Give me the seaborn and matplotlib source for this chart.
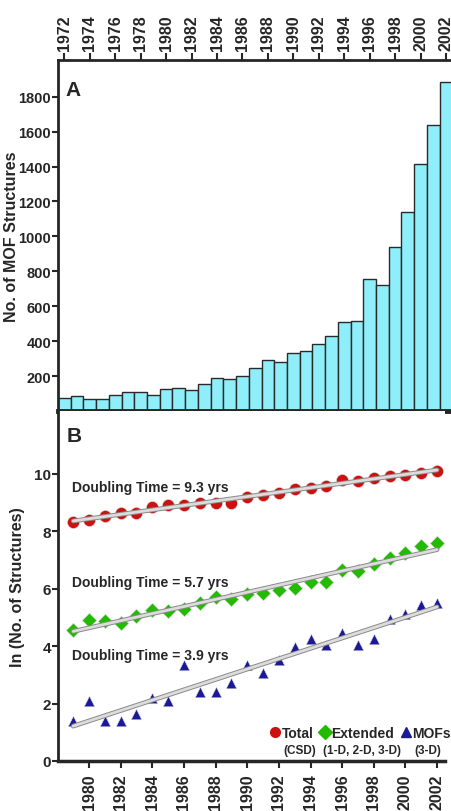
import matplotlib
matplotlib.use("Agg")
import matplotlib.pyplot as plt
import matplotlib.patheffects as pe
from matplotlib.lines import Line2D
import seaborn as sns

# ── Data ──────────────────────────────────────────────────────────────────────
bar_years = list(range(1972, 2003))
mof_counts = [74, 86, 70, 70, 90, 109, 109, 90, 124, 132, 122, 156, 189, 181,
              200, 248, 294, 280, 332, 343, 381, 427, 509, 513, 757, 723, 938,
              1138, 1413, 1640, 1882]

fit_years = list(range(1979, 2003))
ln_total = [8.32, 8.41, 8.53, 8.64, 8.63, 8.84, 8.90, 8.90, 8.99, 8.99, 8.99,
            9.21, 9.28, 9.33, 9.48, 9.52, 9.57, 9.77, 9.75, 9.85, 9.94, 9.97,
            10.03, 10.11]
ln_extended = [4.55, 4.90, 4.88, 4.81, 5.05, 5.25, 5.21, 5.30, 5.51, 5.71,
               5.65, 5.83, 5.86, 5.94, 6.03, 6.25, 6.25, 6.66, 6.62, 6.85,
               7.07, 7.25, 7.49, 7.59]
ln_mofs = [1.38, 2.08, 1.38, 1.38, 1.62, 2.21, 2.08, 3.36, 2.41, 2.41, 2.72,
           3.36, 3.07, 3.51, 3.97, 4.26, 4.03, 4.46, 4.03, 4.24, 4.93, 5.13,
           5.45, 5.50]

series_names = ["Total", "Extended", "MOFs"]
series_notes = ["(CSD)", "(1-D, 2-D, 3-D)", "(3-D)"]
doubling_labels = ["Doubling Time = 9.3 yrs", "Doubling Time = 5.7 yrs",
                   "Doubling Time = 3.9 yrs"]

# ── Style ─────────────────────────────────────────────────────────────────────
sns.set_style("ticks")
plt.rcParams["font.family"] = ["Liberation Sans", "DejaVu Sans"]
plt.rcParams["font.weight"] = "bold"
plt.rcParams["axes.labelweight"] = "bold"

bar_color = "#8eeefa"
colors = ["#cc1111", "#22bb00", "#1a1a99"]
markers = ["o", "D", "^"]
sizes = [75, 55, 58]

fig = plt.figure(figsize=(4.52, 8.12), dpi=100)
ax_a = fig.add_axes([0.1283, 0.4926, 0.8717, 0.4323])
ax_b = fig.add_axes([0.1283, 0.0616, 0.8562, 0.4310])

# ── Panel A: bar chart ────────────────────────────────────────────────────────
sns.barplot(x=bar_years, y=mof_counts, native_scale=True, width=1.0,
            color=bar_color, edgecolor="#2a2a2a", linewidth=1.0,
            saturation=1, ax=ax_a)
ax_a.set_xlim(1971.5, 2002.47)
ax_a.set_ylim(0, 2010)
ax_a.xaxis.tick_top()
ax_a.set_xticks(range(1972, 2003, 2))
ax_a.set_yticks(range(200, 1801, 200))
ax_a.tick_params(axis="x", labelsize=11.5, rotation=90, length=5, width=1.5,
                 pad=2)
ax_a.tick_params(axis="y", labelsize=10.5, length=4, width=1.5, pad=1)
ax_a.set_xlabel("")
ax_a.set_ylabel("No. of MOF Structures", fontsize=11.5)
ax_a.yaxis.set_label_coords(-0.1, 0.5)
for side in ["top", "left"]:
    ax_a.spines[side].set_linewidth(2)
ax_a.spines["bottom"].set_linewidth(3.5)
ax_a.spines["right"].set_visible(False)
ax_a.text(0.02, 0.915, "A", transform=ax_a.transAxes, fontsize=15,
          fontweight="bold", va="center", ha="left")

# ── Panel B: log growth with linear fits ─────────────────────────────────────
for vals, name, c, m, s in zip([ln_total, ln_extended, ln_mofs], series_names,
                               colors, markers, sizes):
    sns.scatterplot(x=fit_years, y=vals, ax=ax_b, marker=m, color=c, s=s,
                    edgecolor="#dddddd", linewidth=0.4, zorder=3)
    sns.regplot(x=fit_years, y=vals, ax=ax_b, scatter=False, ci=None,
                truncate=True,
                line_kws=dict(color="#dcdcdc", lw=2.0, zorder=5,
                              path_effects=[pe.Stroke(linewidth=3.4,
                                                      foreground="#8a8a8a"),
                                            pe.Normal()]))

ax_b.set_xlim(1978.04, 2002.5)
ax_b.set_ylim(0, 12.19)
ax_b.set_xticks(range(1980, 2003, 2))
ax_b.set_yticks(range(0, 11, 2))
ax_b.tick_params(axis="x", labelsize=11.5, rotation=90, length=5, width=1.5,
                 pad=4)
ax_b.tick_params(axis="y", labelsize=11, length=4, width=1.5, pad=1)
ax_b.set_ylabel("ln (No. of Structures)", fontsize=11.5)
ax_b.yaxis.set_label_coords(-0.085, 0.5)
ax_b.spines["left"].set_linewidth(2)
ax_b.spines["bottom"].set_linewidth(2.5)
ax_b.spines["top"].set_visible(False)
ax_b.spines["right"].set_visible(False)
ax_b.text(0.022, 0.93, "B", transform=ax_b.transAxes, fontsize=15,
          fontweight="bold", va="center", ha="left")

for label, y in zip(doubling_labels, [9.55, 6.24, 3.70]):
    ax_b.text(1978.95, y, label, fontsize=10, fontweight="bold",
              va="center", ha="left")

handles = [Line2D([], [], ls="none", marker=m, color=c, markersize=7)
           for m, c in zip(markers, colors)]
ax_b.legend(handles, series_names, ncol=3, loc="lower right",
            bbox_to_anchor=(1.03, 0.045), frameon=False, fontsize=10,
            handlelength=0.7, handletextpad=0.1, columnspacing=0.5,
            borderaxespad=0)
for note, x in zip(series_notes, [0.625, 0.786, 0.956]):
    ax_b.text(x, 0.03, note, transform=ax_b.transAxes, fontsize=8.5,
              fontweight="bold", ha="center", va="center")

fig.savefig("out.png", dpi=100)
